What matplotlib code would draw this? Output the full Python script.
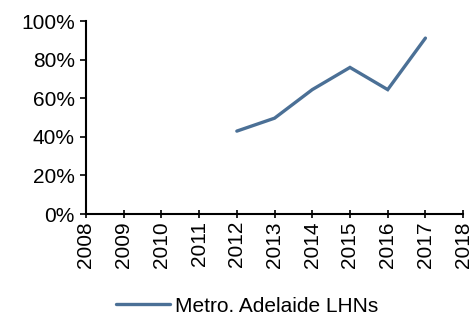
import matplotlib
matplotlib.use("Agg")
import matplotlib.pyplot as plt
from matplotlib.ticker import PercentFormatter

plt.rcParams['font.family'] = ['Liberation Sans', 'DejaVu Sans']

years = [2012, 2013, 2014, 2015, 2016, 2017]
share = [43, 49.7, 64.5, 76, 64.5, 91.2]
series_name = "Metro. Adelaide LHNs"
year_ticks = list(range(2008, 2019))
color = "#4B7096"

fig = plt.figure(figsize=(4.75, 3.2), dpi=100)
ax = fig.add_axes([0.181, 0.331, 0.794, 0.603])

line, = ax.plot(years, share, color=color, lw=2.4, solid_capstyle='round',
                solid_joinstyle='miter', label=series_name)

ax.set_xlim(2008, 2018)
ax.set_ylim(0, 100)
ax.set_xticks(year_ticks)
ax.set_xticklabels([str(y) for y in year_ticks], rotation=90)
ax.set_yticks(range(0, 101, 20))
ax.yaxis.set_major_formatter(PercentFormatter(decimals=0))

for s in ['top', 'right']:
    ax.spines[s].set_visible(False)
for s in ['left', 'bottom']:
    ax.spines[s].set_linewidth(1.5)
    ax.spines[s].set_color('black')

ax.tick_params(axis='y', direction='out', length=4, width=1.2, labelsize=15, pad=4)
ax.tick_params(axis='x', direction='inout', length=6, width=1.2, labelsize=15, pad=2)

fig.legend(handles=[line], loc='lower center', bbox_to_anchor=(0.52, -0.045),
           frameon=False, fontsize=15, handlelength=2.6, handletextpad=0.2)

fig.savefig("out.png", dpi=100)
